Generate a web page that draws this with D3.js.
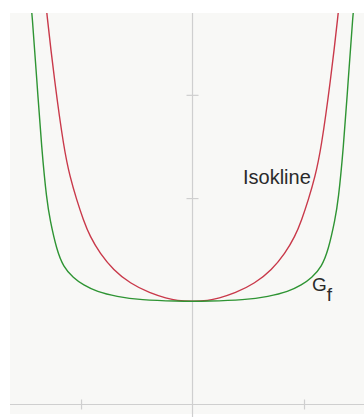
<!DOCTYPE html>
<html><head><meta charset="utf-8">
<script src="https://cdn.jsdelivr.net/npm/d3@7"></script>
<style>html,body{margin:0;padding:0;background:#fff;}svg{display:block;}</style>
</head><body>
<script>
// Data
const gfX = [-1.47, -1.437, -1.397, -1.352, -1.308, -1.278, -1.218, -1.159, -1.069, -0.979, -0.859, -0.680, -0.471, -0.112, 0,
             0.112, 0.471, 0.680, 0.859, 0.979, 1.069, 1.159, 1.218, 1.278, 1.308, 1.352, 1.397, 1.437, 1.47];
const gfY = [4.10, 3.774, 3.144, 2.466, 1.982, 1.788, 1.497, 1.335, 1.226, 1.158, 1.093, 1.045, 1.013, 1.0, 1.0,
             1.0, 1.013, 1.045, 1.093, 1.158, 1.226, 1.335, 1.497, 1.788, 1.982, 2.466, 3.144, 3.774, 4.10];
const isoX = [-1.335, -1.308, -1.239, -1.152, -1.099, -1.039, -0.979, -0.919, -0.830, -0.710, -0.561, -0.381, -0.231, -0.142, 0,
              0.142, 0.231, 0.381, 0.561, 0.710, 0.830, 0.919, 0.979, 1.039, 1.099, 1.152, 1.239, 1.308, 1.335];
const isoY = [4.10, 3.794, 3.144, 2.466, 2.207, 1.982, 1.788, 1.626, 1.465, 1.303, 1.174, 1.078, 1.029, 1.006, 1.0,
              1.006, 1.029, 1.078, 1.174, 1.303, 1.465, 1.626, 1.788, 1.982, 2.207, 2.466, 3.144, 3.794, 4.10];
const xTicks = [-1, 1];
const yTicks = [2, 3];
const labels = ["Isokline", "G", "f"];

const W = 364, H = 417;
const L = 10, T = 13, R = 364, B = 414;
const x = d3.scaleLinear().domain([-1.637, 1.538]).range([L, R]);
const y = d3.scaleLinear().domain([-0.092, 3.793]).range([B, T]);

const svg = d3.select("body").append("svg").attr("width", W).attr("height", H);
svg.append("rect").attr("x", L).attr("y", T).attr("width", R - L).attr("height", B - T).attr("fill", "#f8f8f6");

svg.append("defs").append("clipPath").attr("id", "clip")
  .append("rect").attr("x", L).attr("y", T).attr("width", R - L).attr("height", B - T);

const axisCol = "#cfcfcf";
svg.append("line").attr("x1", L).attr("x2", R).attr("y1", y(0)).attr("y2", y(0))
  .attr("stroke", axisCol).attr("stroke-width", 1.2);
svg.append("line").attr("x1", x(0)).attr("x2", x(0)).attr("y1", T).attr("y2", H)
  .attr("stroke", axisCol).attr("stroke-width", 1.2);

const xAxis = d3.axisBottom(x).tickValues(xTicks).tickSize(10).tickFormat("");
const gx = svg.append("g").attr("transform", `translate(0,${y(0) - 5})`).call(xAxis);
gx.select(".domain").remove();
gx.selectAll(".tick line").attr("stroke", axisCol).attr("stroke-width", 1.2);

const yAxis = d3.axisLeft(y).tickValues(yTicks).tickSize(12).tickFormat("");
const gy = svg.append("g").attr("transform", `translate(${x(0) + 6},0)`).call(yAxis);
gy.select(".domain").remove();
gy.selectAll(".tick line").attr("stroke", axisCol).attr("stroke-width", 1.2);

const line = d3.line().x(d => x(d[0])).y(d => y(d[1])).curve(d3.curveBasis);
const plot = svg.append("g").attr("clip-path", "url(#clip)");

plot.append("path").datum(isoX.map((v, i) => [v, isoY[i]]))
  .attr("d", line).attr("fill", "none").attr("stroke", "#c9394a").attr("stroke-width", 1.4);
plot.append("path").datum(gfX.map((v, i) => [v, gfY[i]]))
  .attr("d", line).attr("fill", "none").attr("stroke", "#2e9433").attr("stroke-width", 1.4);

const font = "'Liberation Sans', Arial, sans-serif";
svg.append("text").attr("x", 243).attr("y", 184).attr("font-family", font).attr("font-size", 20)
  .attr("fill", "#2a2a2a").text(labels[0]);
const gt = svg.append("text").attr("x", 312).attr("y", 291).attr("font-family", font).attr("font-size", 19)
  .attr("fill", "#2a2a2a");
gt.append("tspan").text(labels[1]);
gt.append("tspan").attr("dy", 10).attr("font-size", 19).text(labels[2]);
</script>
</body></html>
